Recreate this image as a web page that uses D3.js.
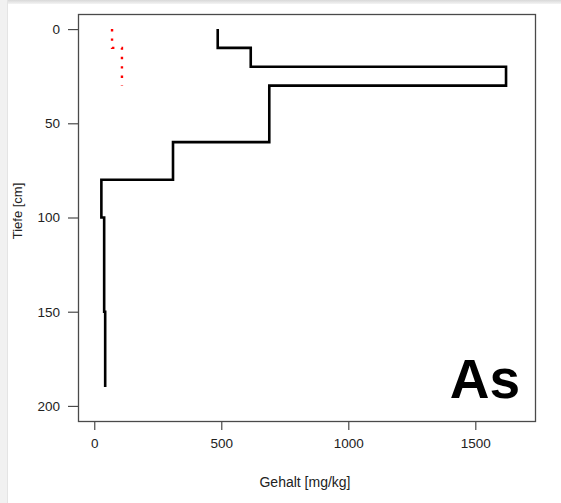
<!DOCTYPE html>
<html><head><meta charset="utf-8">
<script src="https://cdn.jsdelivr.net/npm/d3@7"></script>
<style>html,body{margin:0;padding:0;background:#fff;}svg{display:block;}</style>
</head><body>
<script>
// Data
const depths = [0, 10, 20, 30, 60, 80, 100, 150, 190];
const asValues = [486, 616, 1621, 689, 310, 28, 39, 43, 43];
const refDepths = [0, 10, 30];
const refValues = [70, 109, 109];
const xTicks = [0, 500, 1000, 1500];
const yTicks = [0, 50, 100, 150, 200];
const xTitle = "Gehalt [mg/kg]";
const yTitle = "Tiefe [cm]";
const elementLabel = "As";

const W = 561, H = 503;
const svg = d3.select("body").append("svg").attr("width", W).attr("height", H);

// window chrome
const defs = svg.append("defs");
const g1 = defs.append("linearGradient").attr("id","topg").attr("x1",0).attr("y1",0).attr("x2",0).attr("y2",1);
g1.append("stop").attr("offset","0%").attr("stop-color","#d8d8d8");
g1.append("stop").attr("offset","100%").attr("stop-color","#f4f4f4");
svg.append("rect").attr("x",0).attr("y",0).attr("width",W).attr("height",H).attr("fill","#fff");
svg.append("rect").attr("x",0).attr("y",0).attr("width",W).attr("height",4).attr("fill","url(#topg)");
svg.append("rect").attr("x",0).attr("y",0).attr("width",7).attr("height",H).attr("fill","#f1f1f1");
svg.append("line").attr("x1",7.5).attr("x2",7.5).attr("y1",0).attr("y2",H).attr("stroke","#e4e4e4");

const x = d3.scaleLinear().domain([-64, 1735]).range([78, 535]);
const y = d3.scaleLinear().domain([-8, 208]).range([14, 421]);

const font = "'Liberation Sans', Arial, sans-serif";

// box
svg.append("rect").attr("x", 78.5).attr("y", 14.5).attr("width", 535-78).attr("height", 421-14)
  .attr("fill","none").attr("stroke","#4a4a4a").attr("stroke-width",1.3);

// axes
const xAxis = d3.axisBottom(x).tickValues(xTicks).tickSize(9).tickPadding(8).tickFormat(d3.format("d"));
const gx = svg.append("g").attr("transform","translate(0,421)").call(xAxis);
gx.select(".domain").remove();
gx.selectAll("line").attr("stroke","#4a4a4a").attr("stroke-width",1.2);
gx.selectAll("text").attr("font-family",font).attr("font-size",13.5).attr("fill","#222");

const yAxis = d3.axisLeft(y).tickValues(yTicks).tickSize(10).tickPadding(8).tickFormat(d3.format("d"));
const gy = svg.append("g").attr("transform","translate(78,0)").call(yAxis);
gy.select(".domain").remove();
gy.selectAll("line").attr("stroke","#4a4a4a").attr("stroke-width",1.2);
gy.selectAll("text").attr("font-family",font).attr("font-size",13.5).attr("fill","#222");

// titles
svg.append("text").attr("x", 305).attr("y", 487).attr("text-anchor","middle")
  .attr("font-family",font).attr("font-size",14).attr("fill","#222").text(xTitle);
svg.append("text").attr("transform","translate(22,211) rotate(-90)").attr("text-anchor","middle")
  .attr("font-family",font).attr("font-size",13).attr("fill","#222").text(yTitle);

// lines
const line = d3.line().x(d => x(d[0])).y(d => y(d[1])).curve(d3.curveStepBefore);
svg.append("path").datum(refValues.map((v,i)=>[v, refDepths[i]]))
  .attr("d", line).attr("fill","none").attr("stroke","#ff0000").attr("stroke-width",2.4)
  .attr("stroke-dasharray","2.4,7");
svg.append("path").datum(asValues.map((v,i)=>[v, depths[i]]))
  .attr("d", line).attr("fill","none").attr("stroke","#000").attr("stroke-width",2.6)
  .attr("stroke-linejoin","miter").attr("stroke-linecap","butt");

// element label
svg.append("text").attr("x", 520).attr("y", 398).attr("text-anchor","end")
  .attr("font-family",font).attr("font-weight","bold").attr("font-size",55).attr("fill","#000").text(elementLabel);
</script>
</body></html>
